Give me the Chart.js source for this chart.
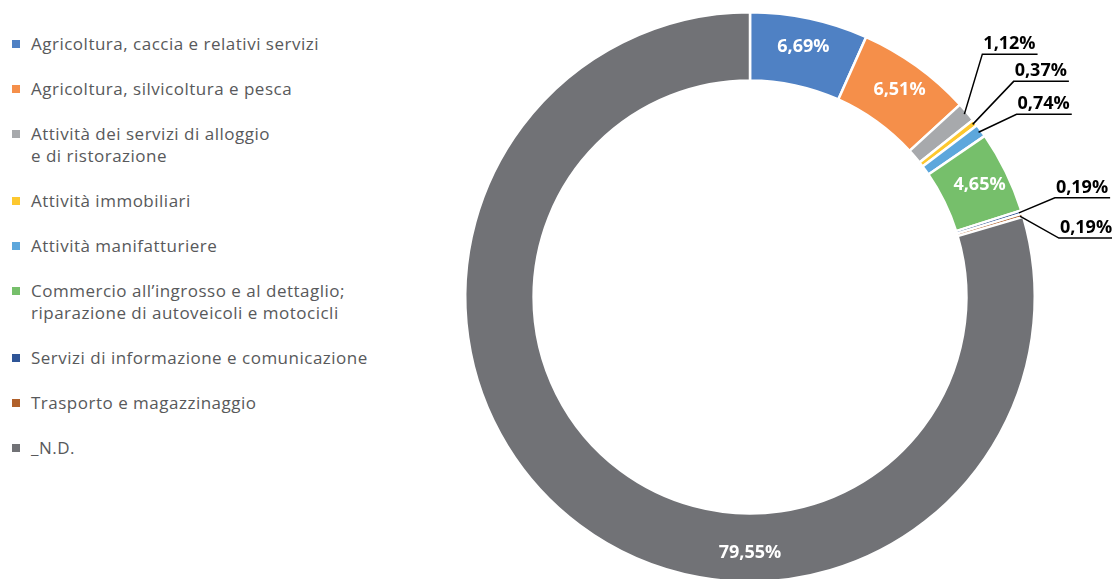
<!DOCTYPE html>
<html>
<head>
<meta charset="utf-8">
<script src="https://cdn.jsdelivr.net/npm/chart.js@4.4.1/dist/chart.umd.min.js"></script>
<style>
  html, body { margin: 0; padding: 0; background: #fff; overflow: hidden; width: 1112px; height: 579px; }
  #legend { position: absolute; left: 12px; top: 33px; font-family: "Open Sans", sans-serif; font-size: 17px; letter-spacing: 0.5px; color: #58595b; }
  .item { display: flex; align-items: flex-start; margin-bottom: 23px; line-height: 22px; }
  .sw { width: 8px; height: 8px; margin-top: 7px; margin-right: 11px; flex: none; }
  #wrap { position: absolute; left: 400px; top: -4px; width: 712px; height: 602px; }
</style>
</head>
<body>
<div id="legend"></div>
<div id="wrap"><canvas id="chart"></canvas></div>
<script>
// categories (legend lines) and shares in %
const categories = [
  ["Agricoltura, caccia e relativi servizi"],
  ["Agricoltura, silvicoltura e pesca"],
  ["Attività dei servizi di alloggio", "e di ristorazione"],
  ["Attività immobiliari"],
  ["Attività manifatturiere"],
  ["Commercio all\u2019ingrosso e al dettaglio;", "riparazione di autoveicoli e motocicli"],
  ["Servizi di informazione e comunicazione"],
  ["Trasporto e magazzinaggio"],
  ["_N.D."]
];
const shares = [6.69, 6.51, 1.12, 0.37, 0.74, 4.65, 0.19, 0.19, 79.55];
const colors = ["#4f81c4", "#f58f4a", "#a7a9ac", "#fdc82f", "#5da7dc", "#76bf6b", "#2f5597", "#b0602a", "#717276"];

// how each value label is placed: inside the ring, outside with a leader, or at the bottom
const labelMode = ["in", "in", "out", "out", "out", "in", "out", "out", "bottom"];
const elbowOffsets = [null, null, [18, -60], [41, -43], [38, -18], null, [36, -15], [39, 22], null];

const fmt = v => v.toFixed(2).replace(".", ",") + "%";

// html legend
const legend = document.getElementById("legend");
categories.forEach((lines, i) => {
  const row = document.createElement("div");
  row.className = "item";
  const sw = document.createElement("span");
  sw.className = "sw";
  sw.style.background = colors[i];
  const txt = document.createElement("span");
  txt.innerHTML = lines.join("<br>");
  row.appendChild(sw);
  row.appendChild(txt);
  legend.appendChild(row);
});

const pctLabels = {
  id: "pctLabels",
  afterDatasetsDraw(chart) {
    const ctx = chart.ctx;
    const meta = chart.getDatasetMeta(0);
    ctx.save();
    ctx.font = "bold 18px 'Open Sans'";
    meta.data.forEach((arc, i) => {
      const txt = fmt(shares[i]);
      const mid = (arc.startAngle + arc.endAngle) / 2;
      const cx = arc.x, cy = arc.y;
      const mode = labelMode[i];
      if (mode === "in" || mode === "bottom") {
        const a = mode === "bottom" ? Math.PI / 2 : mid;
        const r = (arc.outerRadius + arc.innerRadius) / 2 + 5;
        ctx.fillStyle = "#fff";
        ctx.textAlign = "center";
        ctx.textBaseline = "middle";
        ctx.fillText(txt, cx + r * Math.cos(a), cy + r * Math.sin(a));
      } else {
        const ax = cx + (arc.outerRadius - 3) * Math.cos(mid);
        const ay = cy + (arc.outerRadius - 3) * Math.sin(mid);
        const ex = ax + elbowOffsets[i][0];
        const ey = ay + elbowOffsets[i][1];
        const w = ctx.measureText(txt).width;
        ctx.strokeStyle = "#000";
        ctx.lineWidth = 1.5;
        ctx.beginPath();
        ctx.moveTo(ax, ay);
        ctx.lineTo(ex, ey);
        ctx.lineTo(ex + w + 3, ey);
        ctx.stroke();
        ctx.fillStyle = "#000";
        ctx.textAlign = "left";
        ctx.textBaseline = "alphabetic";
        ctx.fillText(txt, ex + 1, ey - 5);
      }
    });
    ctx.restore();
  }
};

new Chart(document.getElementById("chart"), {
  type: "doughnut",
  data: {
    labels: categories.map(l => l.join(" ")),
    datasets: [{
      data: shares,
      backgroundColor: colors,
      borderColor: "#fff",
      borderWidth: 2.5
    }]
  },
  options: {
    responsive: true,
    maintainAspectRatio: false,
    animation: false,
    cutout: "76%",
    layout: { padding: { left: 63, right: 75, top: 15, bottom: 15 } },
    plugins: {
      legend: { display: false },
      tooltip: { enabled: false }
    }
  },
  plugins: [pctLabels]
});
</script>
</body>
</html>
